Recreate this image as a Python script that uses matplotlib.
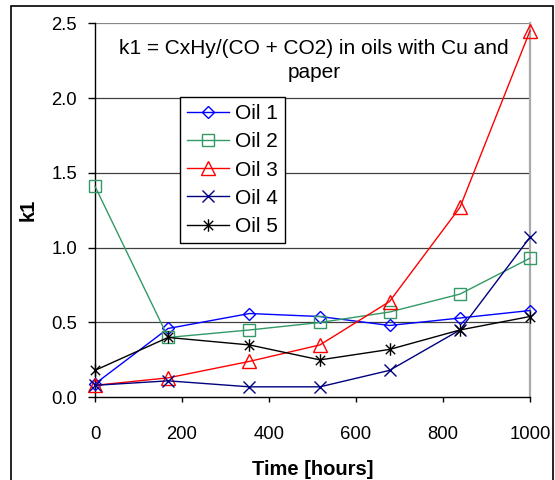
import matplotlib
matplotlib.use("Agg")
import matplotlib.pyplot as plt
from matplotlib.path import Path
from matplotlib.patches import Rectangle

# values
hours = [0, 168, 355, 517, 677, 839, 1000]
oil1 = [0.09, 0.46, 0.56, 0.54, 0.48, 0.53, 0.58]
oil2 = [1.41, 0.40, 0.45, 0.50, 0.57, 0.69, 0.93]
oil3 = [0.08, 0.13, 0.24, 0.35, 0.64, 1.27, 2.45]
oil4 = [0.08, 0.11, 0.07, 0.07, 0.18, 0.45, 1.07]
oil5 = [0.18, 0.40, 0.35, 0.25, 0.32, 0.45, 0.54]
labels = ["Oil 1", "Oil 2", "Oil 3", "Oil 4", "Oil 5"]
y_ticks = [0.0, 0.5, 1.0, 1.5, 2.0, 2.5]
x_ticks = [0, 200, 400, 600, 800, 1000]

plt.rcParams['font.family'] = ['Liberation Sans', 'DejaVu Sans']

# excel style asterisk: vertical bar plus an x
star = Path([(0, -1), (0, 1), (-0.75, -0.75), (0.75, 0.75), (-0.75, 0.75), (0.75, -0.75)],
            [Path.MOVETO, Path.LINETO, Path.MOVETO, Path.LINETO, Path.MOVETO, Path.LINETO])

styles = [
    dict(color='#0000ff', marker='D', ms=6.4),
    dict(color='#339966', marker='s', ms=8),
    dict(color='#ff0000', marker='^', ms=9.5),
    dict(color='#000080', marker='x', ms=8.5, mew=1),
    dict(color='#000000', marker=star, ms=9, mew=1),
]

fig = plt.figure(figsize=(5.55, 4.8), dpi=100)
ax = fig.add_axes([0.1712, 0.1723, 0.7838, 0.7792])

# outer frame around the chart
fig.patches.append(Rectangle((0.0198, -0.02), 0.9766, 1.0075, transform=fig.transFigure,
                             fill=False, edgecolor='black', lw=1.2))

for y in y_ticks[1:]:
    ax.axhline(y, color='#888888' if y == 2.5 else '#404040', lw=0.9, zorder=1)

for data, label, st in zip([oil1, oil2, oil3, oil4, oil5], labels, styles):
    ax.plot(hours, data, lw=1, mfc='none', label=label, zorder=3, clip_on=False, **st)

ax.set_xlim(0, 1000)
ax.set_ylim(0, 2.5)
ax.set_xticks(x_ticks)
ax.set_yticks(y_ticks)
ax.set_yticklabels([f"{v:.1f}" for v in y_ticks])
ax.tick_params(axis='both', labelsize=13.3, direction='out', width=1)
ax.tick_params(axis='x', length=3.6, pad=17)
ax.tick_params(axis='y', length=5, pad=8)

ax.spines['top'].set_visible(False)
ax.spines['right'].set_color('#aaaaaa')
ax.spines['right'].set_linewidth(1.6)
ax.spines['left'].set_linewidth(1)
ax.spines['bottom'].set_linewidth(1)

ax.set_xlabel('Time [hours]', fontsize=14.5, fontweight='bold', labelpad=12)
ax.set_ylabel('k1', fontsize=14.5, fontweight='bold', labelpad=10)

ax.text(0.503, 0.90, "k1 = CxHy/(CO + CO2) in oils with Cu and\npaper", transform=ax.transAxes,
        ha='center', va='center', fontsize=15, linespacing=1.37)

leg = ax.legend(loc='upper left', bbox_to_anchor=(0.195, 0.803), borderaxespad=0,
                fontsize=15, fancybox=False, framealpha=1, edgecolor='black',
                handlelength=2.0, handletextpad=0.3, labelspacing=0.44, borderpad=0.35)
leg.get_frame().set_linewidth(1)
leg.set_zorder(5)

fig.savefig('out.png', dpi=100)
